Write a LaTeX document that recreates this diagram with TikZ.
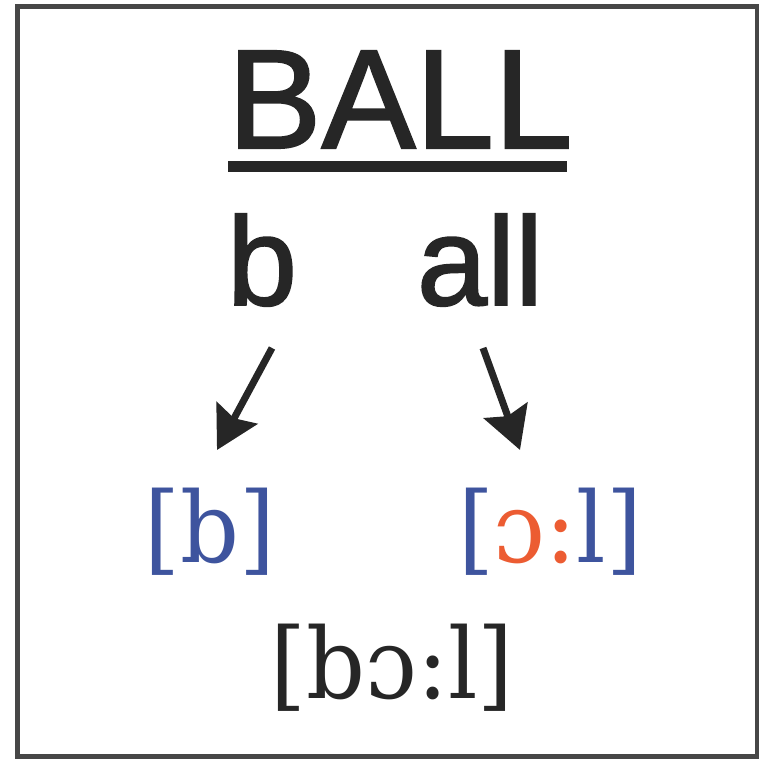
\documentclass[tikz,border=0pt]{standalone}
\usepackage{fontspec}
\usepackage{graphicx}
\setmainfont{DejaVu Serif}
\newfontfamily\arialfont[FakeBold=1.5]{Liberation Sans}
\usetikzlibrary{arrows.meta}
\definecolor{ink}{RGB}{38,38,38}
\definecolor{ipablue}{RGB}{62,84,158}
\definecolor{ipaorange}{RGB}{236,92,50}
\newcommand{\narrowipa}[1]{\scalebox{0.94}[1]{#1}}
\tikzset{
  word/.style={inner sep=0pt, anchor=base, text=ink, font=\arialfont\fontsize{#1}{#1}\selectfont},
  ipa/.style={inner sep=0pt, anchor=base, font=\fontsize{#1}{#1}\selectfont},
  bigarrow/.style={draw=ink, line width=7pt, -{Stealth[length=42pt,width=46pt,inset=6pt]}},
  frame/.style={draw=ink!85, line width=5pt}
}
\begin{document}
\begin{tikzpicture}[x=1pt,y=-1pt]
\useasboundingbox (0,0) rectangle (759,760);
\fill[white] (0,0) rectangle (759,760);
\draw[frame] (17,7) rectangle (757,756);
\node[word=141] (ball) at (400,148) {BALL};
\draw[ink, line width=11pt] (228,166) -- (567,166);
\node[word=126] (b) at (262,305) {b};
\node[word=126] (all) at (480,305) {all};
\coordinate (a1s) at (272,348);
\coordinate (a1e) at (217,450);
\coordinate (a2s) at (483,348);
\coordinate (a2e) at (520,450);
\draw[bigarrow] (a1s) -- (a1e);
\draw[bigarrow] (a2s) -- (a2e);
\node[ipa=98, text=ipablue] (pb) at (210,562) {\narrowipa{[b]}};
\node[ipa=98, text=ipablue] (pal) at (550,562) {\narrowipa{[\textcolor{ipaorange}{ɔ:}l]}};
\node[ipa=98, text=ink] (word) at (392,698) {\narrowipa{[bɔ:l]}};
\end{tikzpicture}
\end{document}
